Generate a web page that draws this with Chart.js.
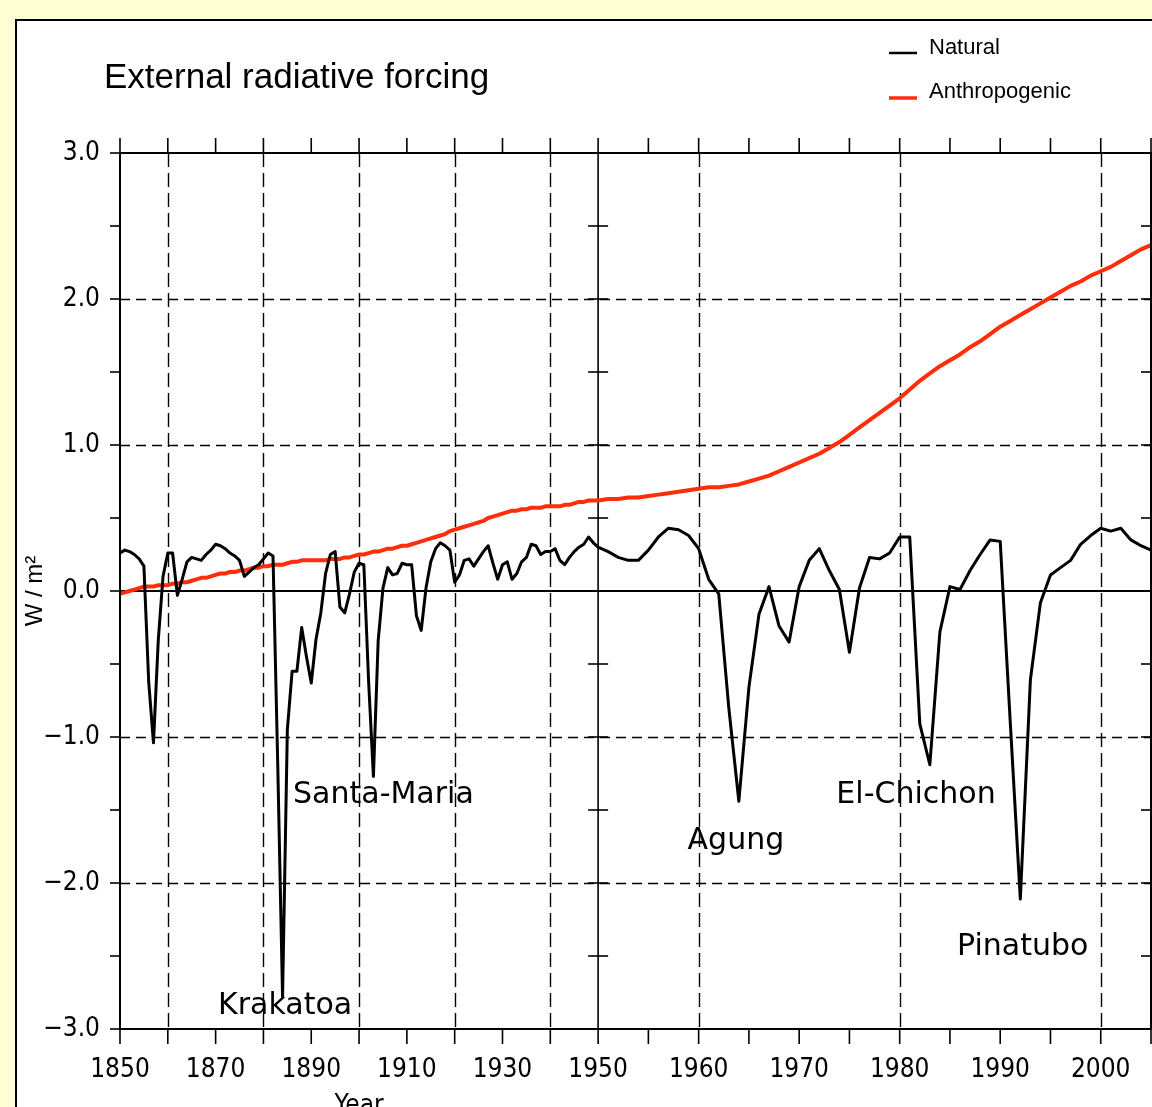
<!DOCTYPE html>
<html>
<head>
<meta charset="utf-8">
<script src="https://cdn.jsdelivr.net/npm/chart.js@4.4.1/dist/chart.umd.min.js"></script>
<style>
  html, body { margin: 0; padding: 0; background: #ffffd5; overflow: hidden; }
  .panel {
    position: absolute; left: 15px; top: 19px; width: 1300px; height: 1300px;
    background: #fff; border-left: 2px solid #000; border-top: 2px solid #000;
  }
  #forcing { position: absolute; left: 0; top: 0; }
</style>
</head>
<body>
<div class="panel"></div>
<canvas id="forcing" width="1152" height="1107"></canvas>
<script>
const NARROW = "'Liberation Sans Narrow', 'DejaVu Sans Condensed', sans-serif";
const SANS = "'Liberation Sans', Arial, sans-serif";
const HAND = "'DejaVu Sans', sans-serif";

// annual forcing, W/m2; the 1950 value closes the first panel and opens the second
const earlyStart = 1850;
const lateStart = 1950;

const naturalEarly = [
  0.26, 0.28, 0.27, 0.25, 0.22, 0.17, -0.62, -1.04, -0.34, 0.10,
  0.26, 0.26, -0.03, 0.08, 0.20, 0.23, 0.22, 0.21, 0.25, 0.28,
  0.32, 0.31, 0.29, 0.26, 0.24, 0.21, 0.10, 0.13, 0.16, 0.18,
  0.22, 0.26, 0.24, -1.20, -2.78, -0.95, -0.55, -0.55, -0.25, -0.45,
  -0.63, -0.33, -0.15, 0.12, 0.25, 0.27, -0.11, -0.15, -0.02, 0.13,
  0.19, 0.18, -0.62, -1.27, -0.34, 0.02, 0.16, 0.11, 0.12, 0.19,
  0.18, 0.18, -0.17, -0.27, 0.02, 0.20, 0.29, 0.33, 0.31, 0.28,
  0.06, 0.11, 0.21, 0.22, 0.17, 0.22, 0.27, 0.31, 0.19, 0.08,
  0.18, 0.20, 0.08, 0.12, 0.20, 0.23, 0.32, 0.31, 0.25, 0.27,
  0.27, 0.29, 0.21, 0.18, 0.23, 0.27, 0.30, 0.32, 0.37, 0.33,
  0.30
];
const naturalLate = [
  0.30, 0.27, 0.23, 0.21, 0.21, 0.28, 0.37, 0.43, 0.42, 0.38,
  0.29, 0.08, -0.02, -0.80, -1.44, -0.66, -0.16, 0.03, -0.24, -0.35,
  0.03, 0.21, 0.29, 0.14, 0.01, -0.42, 0.02, 0.23, 0.22, 0.26,
  0.37, 0.37, -0.91, -1.19, -0.28, 0.03, 0.01, 0.14, 0.25, 0.35,
  0.34, -0.90, -2.11, -0.61, -0.08, 0.11, 0.16, 0.21, 0.32, 0.38,
  0.43, 0.41, 0.43, 0.35, 0.31, 0.28
];
const anthroEarly = [
  -0.02, -0.01, 0.00, 0.01, 0.02, 0.03, 0.03, 0.03, 0.04, 0.04,
  0.04, 0.05, 0.05, 0.06, 0.06, 0.07, 0.08, 0.09, 0.09, 0.10,
  0.11, 0.12, 0.12, 0.13, 0.13, 0.14, 0.14, 0.15, 0.16, 0.16,
  0.17, 0.17, 0.18, 0.18, 0.18, 0.19, 0.20, 0.20, 0.21, 0.21,
  0.21, 0.21, 0.21, 0.21, 0.22, 0.22, 0.22, 0.23, 0.23, 0.24,
  0.25, 0.25, 0.26, 0.27, 0.27, 0.28, 0.29, 0.29, 0.30, 0.31,
  0.31, 0.32, 0.33, 0.34, 0.35, 0.36, 0.37, 0.38, 0.39, 0.41,
  0.42, 0.43, 0.44, 0.45, 0.46, 0.47, 0.48, 0.50, 0.51, 0.52,
  0.53, 0.54, 0.55, 0.55, 0.56, 0.56, 0.57, 0.57, 0.57, 0.58,
  0.58, 0.58, 0.58, 0.59, 0.59, 0.60, 0.61, 0.61, 0.62, 0.62,
  0.62
];
const anthroLate = [
  0.62, 0.63, 0.63, 0.64, 0.64, 0.65, 0.66, 0.67, 0.68, 0.69,
  0.70, 0.71, 0.71, 0.72, 0.73, 0.75, 0.77, 0.79, 0.82, 0.85,
  0.88, 0.91, 0.94, 0.98, 1.02, 1.07, 1.12, 1.17, 1.22, 1.27,
  1.32, 1.38, 1.44, 1.49, 1.54, 1.58, 1.62, 1.67, 1.71, 1.76,
  1.81, 1.85, 1.89, 1.93, 1.97, 2.01, 2.05, 2.09, 2.12, 2.16,
  2.19, 2.22, 2.26, 2.30, 2.34, 2.37
];

const labelYearsEarly = [1850, 1870, 1890, 1910, 1930];
const labelYearsLate = [1950, 1960, 1970, 1980, 1990, 2000];
const dashedYearsEarly = [1860, 1880, 1900, 1920, 1940];
const dashedYearsLate = [1960, 1980, 2000];
const dashedValues = [-2, -1, 1, 2];

const volcanoes = [
  { name: 'Krakatoa', axis: 'x1', year: 1870.5, value: -2.90 },
  { name: 'Santa-Maria', axis: 'x1', year: 1886.2, value: -1.45 },
  { name: 'Agung', axis: 'x2', year: 1958.9, value: -1.77 },
  { name: 'El-Chichon', axis: 'x2', year: 1973.7, value: -1.45 },
  { name: 'Pinatubo', axis: 'x2', year: 1985.7, value: -2.49 },
];

const RED = '#ff2d0a';

const toPoints = (values, start) => values.map((v, i) => ({ x: start + i, y: v }));

const line = (ctx, x1, y1, x2, y2) => {
  ctx.beginPath();
  ctx.moveTo(x1, y1);
  ctx.lineTo(x2, y2);
  ctx.stroke();
};

// frame, dashed grid, ticks and all the free text
const frame = {
  id: 'frame',
  beforeDatasetsDraw(chart) {
    const { ctx, chartArea: a, scales: { x1, x2, y } } = chart;
    ctx.save();
    ctx.strokeStyle = '#000';
    ctx.lineWidth = 1.4;
    ctx.setLineDash([10, 6]);
    dashedValues.forEach((v) => {
      const py = Math.round(y.getPixelForValue(v)) + 0.5;
      line(ctx, a.left, py, a.right, py);
    });
    ctx.setLineDash([14, 6]);
    dashedYearsEarly.forEach((yr) => {
      const px = Math.round(x1.getPixelForValue(yr)) + 0.5;
      line(ctx, px, a.top, px, a.bottom);
    });
    dashedYearsLate.forEach((yr) => {
      const px = Math.round(x2.getPixelForValue(yr)) + 0.5;
      line(ctx, px, a.top, px, a.bottom);
    });
    ctx.setLineDash([]);
    ctx.lineWidth = 2;
    const y0 = y.getPixelForValue(0);
    line(ctx, a.left, y0, a.right, y0);
    const xs = x1.getPixelForValue(lateStart);
    ctx.lineWidth = 1.6;
    line(ctx, xs, a.top, xs, a.bottom);
    ctx.restore();
  },
  afterDraw(chart) {
    const { ctx, chartArea: a, scales: { x1, x2, y } } = chart;
    ctx.save();
    ctx.strokeStyle = '#000';
    ctx.lineWidth = 2;
    ctx.strokeRect(a.left, a.top, a.right - a.left, a.bottom - a.top);

    // year ticks, outward on top and bottom
    ctx.lineWidth = 1.6;
    const yearTick = (px) => {
      line(ctx, px, a.top, px, a.top - 15);
      line(ctx, px, a.bottom, px, a.bottom + 15);
    };
    for (let yr = 1850; yr <= 1950; yr += 10) yearTick(x1.getPixelForValue(yr));
    for (let yr = 1955; yr <= 2005; yr += 5) yearTick(x2.getPixelForValue(yr));

    // value ticks every 0.5
    const xs = x1.getPixelForValue(lateStart);
    for (let v = -3; v <= 3; v += 0.5) {
      const py = y.getPixelForValue(v);
      line(ctx, a.left - 10, py, a.left, py);
      line(ctx, xs - 10, py, xs + 10, py);
      line(ctx, a.right - 10, py, a.right, py);
    }

    ctx.fillStyle = '#000';
    ctx.textBaseline = 'alphabetic';

    ctx.font = `35px ${SANS}`;
    ctx.fillText('External radiative forcing', 104, 88);

    // legend
    ctx.font = `22px ${SANS}`;
    ctx.lineWidth = 2.5;
    ctx.strokeStyle = '#000';
    line(ctx, 889, 53, 917, 53);
    ctx.fillText('Natural', 929, 54);
    ctx.strokeStyle = RED;
    ctx.lineWidth = 3.5;
    line(ctx, 889, 98, 917, 98);
    ctx.fillText('Anthropogenic', 929, 98);

    // axis titles
    ctx.font = `26px ${NARROW}`;
    ctx.textAlign = 'center';
    ctx.fillText('Year', (x1.left + x1.right) / 2, 1113);
    ctx.save();
    ctx.translate(42, y.getPixelForValue(0));
    ctx.rotate(-Math.PI / 2);
    ctx.font = `24px ${SANS}`;
    ctx.fillText('W / m\u00b2', 0, 0);
    ctx.restore();

    // eruption names
    ctx.textAlign = 'left';
    ctx.font = `30px ${HAND}`;
    volcanoes.forEach((v) => {
      const sx = chart.scales[v.axis];
      ctx.fillText(v.name, sx.getPixelForValue(v.year), y.getPixelForValue(v.value));
    });
    ctx.restore();
  },
};

const tickFont = { family: NARROW, size: 26 };

// keep the year axes from reserving room for their outer labels
const fitYearAxis = (s) => {
  s.height = 78;
  s.paddingLeft = 0;
  s.paddingRight = 0;
};

new Chart(document.getElementById('forcing'), {
  type: 'line',
  data: {
    datasets: [
      {
        label: 'Natural',
        data: toPoints(naturalEarly, earlyStart),
        xAxisID: 'x1',
        borderColor: '#000',
        borderWidth: 3,
      },
      {
        label: 'Natural',
        data: toPoints(naturalLate, lateStart),
        xAxisID: 'x2',
        borderColor: '#000',
        borderWidth: 3,
      },
      {
        label: 'Anthropogenic',
        data: toPoints(anthroEarly, earlyStart),
        xAxisID: 'x1',
        borderColor: RED,
        borderWidth: 4,
      },
      {
        label: 'Anthropogenic',
        data: toPoints(anthroLate, lateStart),
        xAxisID: 'x2',
        borderColor: RED,
        borderWidth: 4,
      },
    ],
  },
  options: {
    responsive: false,
    animation: false,
    layout: { padding: { top: 153, right: 1, bottom: 0, left: 0 } },
    elements: {
      point: { radius: 0 },
      line: { tension: 0, borderJoinStyle: 'round', borderCapStyle: 'round' },
    },
    plugins: { legend: { display: false }, tooltip: { enabled: false } },
    scales: {
      x1: {
        type: 'linear',
        position: 'bottom',
        stack: 'year',
        stackWeight: 100 * 4.78,
        min: 1850,
        max: 1950,
        grid: { display: false },
        border: { display: false },
        ticks: {
          font: tickFont, color: '#000', padding: 18, maxRotation: 0, autoSkip: false,
          callback: (v) => String(v),
        },
        afterBuildTicks: (s) => { s.ticks = labelYearsEarly.map((value) => ({ value })); },
        afterFit: fitYearAxis,
      },
      x2: {
        type: 'linear',
        position: 'bottom',
        stack: 'year',
        stackWeight: 55 * 10.05,
        min: 1950,
        max: 2005,
        grid: { display: false },
        border: { display: false },
        ticks: {
          font: tickFont, color: '#000', padding: 18, maxRotation: 0, autoSkip: false,
          callback: (v) => String(v),
        },
        afterBuildTicks: (s) => { s.ticks = labelYearsLate.map((value) => ({ value })); },
        afterFit: fitYearAxis,
      },
      y: {
        position: 'left',
        min: -3,
        max: 3,
        grid: { display: false },
        border: { display: false },
        ticks: {
          font: tickFont,
          color: '#000',
          padding: 12,
          stepSize: 1,
          callback: (v) => (v < 0 ? '\u2212' + Math.abs(v).toFixed(1) : v.toFixed(1)),
        },
        afterFit: (s) => { s.width = 120; },
      },
    },
  },
  plugins: [frame],
});
</script>
</body>
</html>
